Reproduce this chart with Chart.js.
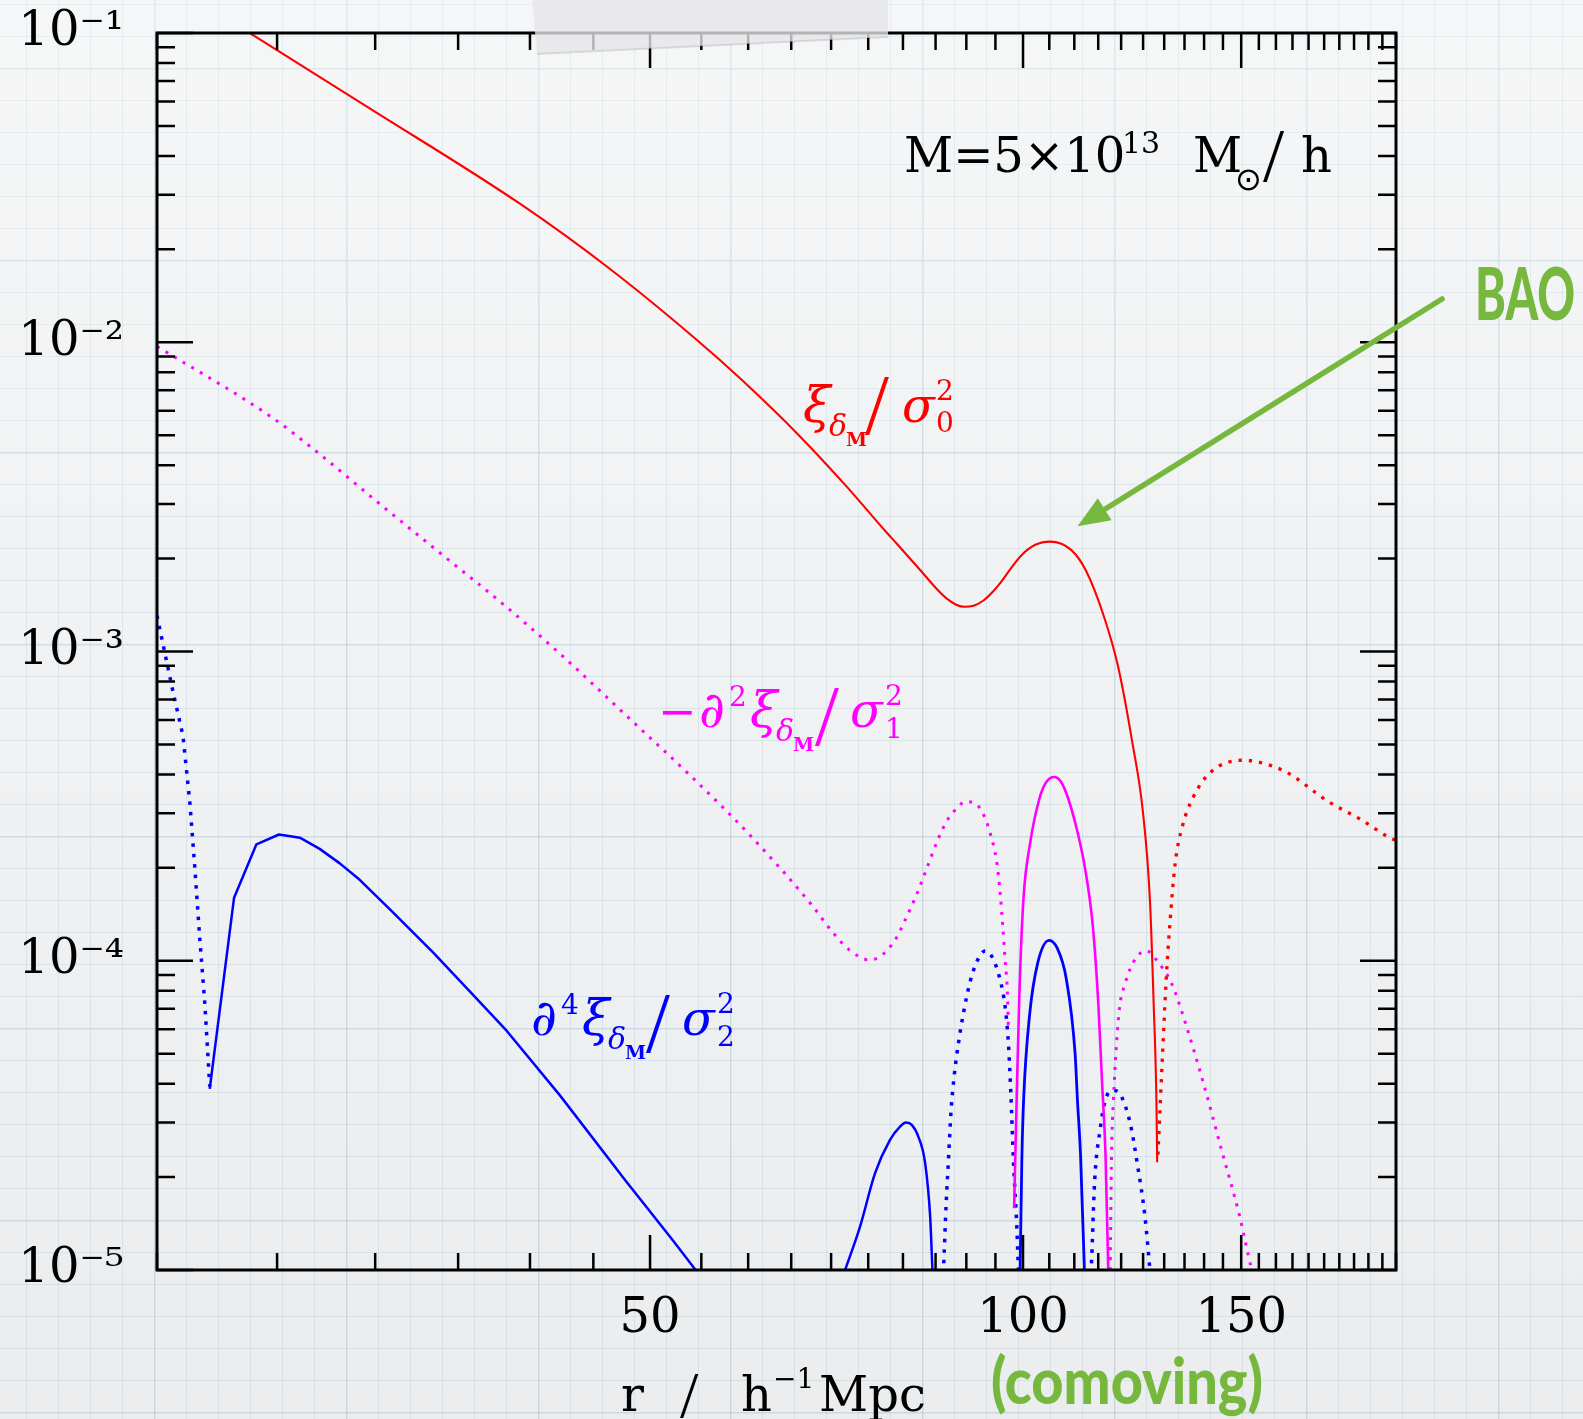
<!DOCTYPE html>
<html><head><meta charset="utf-8">
<script src="https://cdn.jsdelivr.net/npm/chart.js@4.4.1/dist/chart.umd.min.js"></script>
<style>
html,body{margin:0;padding:0;}
body{width:1583px;height:1419px;overflow:hidden;position:relative;
background-color:#f1f2f3;
background-image:
 linear-gradient(to bottom, rgba(255,255,255,0.35), rgba(255,255,255,0) 40%, rgba(0,0,0,0.025)),
 linear-gradient(to right, rgba(160,195,210,0.22) 2px, transparent 2px),
 linear-gradient(to bottom, rgba(160,195,210,0.22) 2px, transparent 2px),
 linear-gradient(to right, rgba(175,205,215,0.33) 1.5px, transparent 1.5px),
 linear-gradient(to bottom, rgba(175,205,215,0.33) 1.5px, transparent 1.5px);
background-size: 100% 100%, 192px 192px, 192px 192px, 32px 32px, 32px 32px;
background-position: 0 0, 154px 68px, 154px 68px, 26px 4px, 26px 4px;
}
#chart{position:absolute;left:0;top:0;}
#ann{position:absolute;left:0;top:0;pointer-events:none;}
</style></head>
<body>
<canvas id="chart" width="1583" height="1419" style="width:1583px;height:1419px"></canvas>
<svg id="ann" width="1583" height="1419" xmlns="http://www.w3.org/2000/svg">
  <!-- tape -->
  <polygon points="532,0 888,0 888,37 537,54" fill="rgba(230,230,232,0.78)"/>
  <polyline points="537,54 888,37" stroke="rgba(0,0,0,0.10)" stroke-width="2" fill="none"/>

  <!-- mass annotation -->
  <g font-family="DejaVu Serif" fill="#000">
    <text x="904" y="172" font-size="48">M=5×10</text>
    <text x="1122" y="153" font-size="30">13</text>
    <text x="1193" y="172" font-size="48">M</text>
    <text x="1235" y="190" font-size="32" font-family="DejaVu Sans">⊙</text>
    <text x="1263" y="181" font-size="76" font-family="Liberation Serif">/</text>
    <text x="1301" y="172" font-size="48">h</text>
  </g>

  <!-- red label -->
  <g font-family="DejaVu Serif" fill="#ff0000">
    <text x="803" y="422" font-size="50" font-style="italic">ξ</text>
    <text x="829" y="436" font-size="30" font-style="italic">δ</text>
    <text x="846" y="446" font-size="19" font-weight="bold">M</text>
    <text x="865" y="434" font-size="86" font-family="Liberation Serif">/</text>
    <text x="902" y="422" font-size="48" font-style="italic">σ</text>
    <text x="936" y="400" font-size="28">2</text>
    <text x="936" y="432" font-size="28">0</text>
  </g>

  <!-- magenta label -->
  <g font-family="DejaVu Serif" fill="#ff00ff">
    <text x="658" y="727" font-size="46">−</text>
    <text x="699" y="727" font-size="50" font-style="italic">∂</text>
    <text x="729" y="706" font-size="28">2</text>
    <text x="750" y="727" font-size="50" font-style="italic">ξ</text>
    <text x="776" y="741" font-size="30" font-style="italic">δ</text>
    <text x="793" y="751" font-size="19" font-weight="bold">M</text>
    <text x="815" y="745" font-size="86" font-family="Liberation Serif">/</text>
    <text x="850" y="727" font-size="48" font-style="italic">σ</text>
    <text x="885" y="705" font-size="28">2</text>
    <text x="885" y="738" font-size="28">1</text>
  </g>

  <!-- blue label -->
  <g font-family="DejaVu Serif" fill="#0000ff">
    <text x="531" y="1035" font-size="50" font-style="italic">∂</text>
    <text x="561" y="1014" font-size="28">4</text>
    <text x="582" y="1035" font-size="50" font-style="italic">ξ</text>
    <text x="608" y="1049" font-size="30" font-style="italic">δ</text>
    <text x="625" y="1059" font-size="19" font-weight="bold">M</text>
    <text x="646" y="1052" font-size="86" font-family="Liberation Serif">/</text>
    <text x="682" y="1035" font-size="48" font-style="italic">σ</text>
    <text x="717" y="1013" font-size="28">2</text>
    <text x="717" y="1046" font-size="28">2</text>
  </g>

  <!-- x axis title -->
  <g font-family="DejaVu Serif" fill="#000">
    <text x="621" y="1411" font-size="48">r</text>
    <text x="680" y="1417" font-size="66" font-family="Liberation Serif">/</text>
    <text x="741" y="1411" font-size="48">h</text>
    <text x="773" y="1388" font-size="28">−1</text>
    <text x="819" y="1411" font-size="48">Mpc</text>
  </g>

  <!-- green annotations -->
  <g fill="#76b83e" font-family="Lato" font-weight="900">
    <text x="1475" y="320" font-size="72" textLength="100" lengthAdjust="spacingAndGlyphs">BAO</text>
    <text x="991" y="1404" font-size="64" textLength="272" lengthAdjust="spacingAndGlyphs">(comoving)</text>
  </g>
  <line x1="1442" y1="299" x2="1102" y2="511" stroke="#76b83e" stroke-width="5.5" stroke-linecap="round"/>
  <polygon points="1077.5,526.2 1111.6,520.3 1097.8,498.3" fill="#76b83e"/>
</svg>
<script>
// ---------------- data ----------------
const xTickValues = [20,25,30,35,40,45,50,55,60,65,70,75,80,85,90,95,100,105,110,115,120,125,130,135,140,145,150,155,160,165,170,175,180,185,190,195,200];
const xMajorValues = [50, 100, 150];
const xTickLabels = ['50', '100', '150'];
const yDecades = [1e-5, 1e-4, 1e-3, 1e-2, 1e-1];
const yTickLabels = ['10⁻⁵', '10⁻⁴', '10⁻³', '10⁻²', '10⁻¹'];
const yMantissas = [1, 2, 3, 4, 5, 6, 7, 8, 9];

// red: xi / sigma0^2 (solid = positive, dotted = negative part)
const redSolidR = [20, 23.76, 29.52, 39.26, 46.5, 54.52, 59.28, 66.07, 72.0, 77.64, 79.10, 82.60, 85.04, 86.80, 88.3, 89.69, 91.2, 92.86, 94.58, 95.84, 97.7, 99.72, 102.3, 105.17, 109.42, 112.37, 116.17, 119.30, 122.49, 124.97, 126.63, 127.48, 128.15, 128.31];
const redSolidV = [0.154, 0.1, 0.0579, 0.02805, 0.01716, 0.01019, 0.00756, 0.00496, 0.003425, 0.00242, 0.00223, 0.001835, 0.001605, 0.001482, 0.001417, 0.001395, 0.001406, 0.001459, 0.001563, 0.001663, 0.00185, 0.002049, 0.002213, 0.002267, 0.002127, 0.00183, 0.001305, 8.97e-4, 5.11e-4, 3.02e-4, 1.539e-4, 7.26e-5, 3.43e-5, 2.23e-5];
const redDotR = [128.5, 129.6, 130.5, 131.3, 132.7, 134.4, 137.2, 141.8, 150.5, 154.5, 163.0, 176.6, 187.4, 197.6, 200];
const redDotV = [2.36e-5, 4.99e-5, 8.76e-5, 1.275e-4, 2.077e-4, 2.70e-4, 3.38e-4, 4.08e-4, 4.45e-4, 4.40e-4, 4.08e-4, 3.26e-4, 2.86e-4, 2.50e-4, 2.45e-4];

// magenta: -d2 xi / sigma1^2
const magDot1R = [20, 24.81, 26.72, 30.40, 34.06, 38.17, 42.77, 47.93, 53.71, 60.19, 67.44, 70.30, 72.52, 75.17, 76.68, 78.85, 80.33, 81.84, 83.64, 85.46, 87.06, 88.43, 89.80, 91.20, 92.64, 94.07, 95.25, 95.84, 96.31, 96.72, 97.14, 97.32];
const magDot1V = [0.0097, 0.005685, 0.004529, 0.002954, 0.00204, 0.001408, 9.44e-4, 6.16e-4, 4.02e-4, 2.55e-4, 1.524e-4, 1.228e-4, 1.079e-4, 1.007e-4, 1.032e-4, 1.168e-4, 1.356e-4, 1.594e-4, 1.993e-4, 2.49e-4, 2.89e-4, 3.11e-4, 3.27e-4, 3.25e-4, 3.04e-4, 2.59e-4, 2.07e-4, 1.654e-4, 1.29e-4, 1.007e-4, 7.86e-5, 5.98e-5];
const magSolidR = [98.36, 98.85, 99.33, 100.07, 101.33, 103.13, 104.46, 106.01, 107.64, 110.17, 112.37, 113.89, 115.02, 115.79, 116.57, 117.17, 117.4];
const magSolidV = [1.584e-5, 3.73e-5, 7.86e-5, 1.574e-4, 2.40e-4, 3.36e-4, 3.79e-4, 3.93e-4, 3.71e-4, 2.80e-4, 1.927e-4, 1.276e-4, 7.26e-5, 4.14e-5, 2.36e-5, 1.0e-5, 8e-6];
const magDot2R = [117.4, 117.57, 117.88, 118.3, 119.5, 120.9, 123.3, 125.8, 128.3, 131.8, 135.3, 139.9, 144.6, 149.5, 153.0, 155];
const magDot2V = [8e-6, 1.0e-5, 2.36e-5, 3.55e-5, 6.74e-5, 8.44e-5, 1.018e-4, 1.077e-4, 9.99e-5, 8.44e-5, 6.25e-5, 3.99e-5, 2.45e-5, 1.503e-5, 1.0e-5, 8.5e-6];

// blue: d4 xi / sigma2^2
const blueDot1R = [20, 20.6, 20.99, 21.26, 21.45, 21.65, 21.86, 22.06];
const blueDot1V = [1.307e-3, 7.43e-4, 5.33e-4, 3.24e-4, 2.03e-4, 1.194e-4, 7.25e-5, 3.92e-5];
const blueSolid1R = [22.06, 23.08, 24.06, 25.09, 26.08, 27.06, 28.09, 29.15, 31.01, 33.42, 36.00, 38.30, 42.29, 47.80, 52.12, 54.42, 56];
const blueSolid1V = [3.85e-5, 1.599e-4, 2.38e-4, 2.56e-4, 2.50e-4, 2.30e-4, 2.065e-4, 1.827e-4, 1.433e-4, 1.062e-4, 7.74e-5, 5.94e-5, 3.67e-5, 1.94e-5, 1.252e-5, 1.0e-5, 8.6e-6];
const blueSolid2R = [71.2, 71.85, 73.87, 75.96, 78.10, 79.57, 80.46, 81.32, 82.32, 83.37, 84.15, 84.51, 84.7];
const blueSolid2V = [9e-6, 1.0e-5, 1.381e-5, 2.056e-5, 2.635e-5, 2.909e-5, 2.997e-5, 2.946e-5, 2.70e-5, 2.215e-5, 1.488e-5, 1.0e-5, 8.5e-6];
const blueDot2R = [86.1, 86.25, 86.69, 87.06, 87.49, 87.98, 88.69, 89.52, 90.64, 91.78, 93.21, 94.37, 95.84, 96.72, 97.32, 97.76, 98.23, 98.85, 99.15, 99.3];
const blueDot2V = [9e-6, 1.0e-5, 1.644e-5, 2.27e-5, 3.294e-5, 4.22e-5, 5.41e-5, 6.77e-5, 8.56e-5, 9.94e-5, 1.076e-4, 1.032e-4, 8.67e-5, 7.11e-5, 5.41e-5, 3.73e-5, 2.27e-5, 1.381e-5, 1.0e-5, 9e-6];
const blueSolid3R = [99.4, 99.46, 99.78, 100.11, 101.23, 102.75, 104.97, 106.56, 108.36, 110.17, 110.64, 111.28, 112.09, 112.25];
const blueSolid3V = [9e-6, 1.0e-5, 2.27e-5, 3.55e-5, 6.68e-5, 9.81e-5, 1.164e-4, 1.098e-4, 8.76e-5, 4.99e-5, 3.55e-5, 2.36e-5, 1.0e-5, 9e-6];
const blueDot3R = [113.3, 113.5, 114.25, 115.40, 116.57, 118.35, 120.1, 122.1, 123.7, 125.4, 126.6, 126.9];
const blueDot3V = [9e-6, 1.0e-5, 1.953e-5, 2.842e-5, 3.56e-5, 3.81e-5, 3.63e-5, 2.953e-5, 2.188e-5, 1.503e-5, 1.0e-5, 9e-6];

// --------------- build ----------------
const yTickValues = [];
yDecades.forEach((d, i) => {
  if (i < yDecades.length - 1) yMantissas.forEach(m => yTickValues.push(m * d));
  else yTickValues.push(d);
});
const isDecade = v => yDecades.some(d => Math.abs(v / d - 1) < 1e-6);

function pts(r, v) { return r.map((x, i) => ({x: x, y: v[i]})); }
const RED = '#ff0000', MAG = '#ff00ff', BLUE = '#0000ff';
function line(r, v, c, w, dash, smooth) {
  const ds = {data: pts(r, v), borderColor: c, borderWidth: w, pointRadius: 0,
          fill: false, clip: 0, borderJoinStyle: 'round', borderCapStyle: 'butt'};
  if (dash) ds.borderDash = [w, 7];
  if (smooth) { ds.cubicInterpolationMode = 'monotone'; ds.tension = 0.4; } else { ds.tension = 0; }
  return ds;
}

const frameTicks = {
  id: 'frameTicks',
  afterDatasetsDraw(chart) {
    const {ctx, chartArea: a, scales: {x, y}} = chart;
    ctx.save();
    ctx.strokeStyle = '#000';
    ctx.lineWidth = 2.5;
    ctx.beginPath();
    xTickValues.forEach(v => {
      const px = x.getPixelForValue(v);
      const L = xMajorValues.includes(v) ? 35 : 17;
      ctx.moveTo(px, a.bottom); ctx.lineTo(px, a.bottom - L);
      ctx.moveTo(px, a.top); ctx.lineTo(px, a.top + L);
    });
    yTickValues.forEach(v => {
      const py = y.getPixelForValue(v);
      const L = isDecade(v) ? 36 : 18;
      ctx.moveTo(a.left, py); ctx.lineTo(a.left + L, py);
      ctx.moveTo(a.right, py); ctx.lineTo(a.right - L, py);
    });
    ctx.stroke();
    ctx.lineWidth = 3;
    ctx.strokeRect(a.left, a.top, a.right - a.left, a.bottom - a.top);
    ctx.restore();
  }
};

new Chart(document.getElementById('chart'), {
  type: 'line',
  data: {
    datasets: [
      line(redSolidR, redSolidV, RED, 2.1, false, true),
      line(redDotR, redDotV, RED, 3.3, true, true),
      line(magDot1R, magDot1V, MAG, 3, true, true),
      line(magSolidR, magSolidV, MAG, 2.6, false, true),
      line(magDot2R, magDot2V, MAG, 3, true, true),
      line(blueDot1R, blueDot1V, BLUE, 3.5, true, false),
      line(blueSolid1R, blueSolid1V, BLUE, 2.5, false, false),
      line(blueSolid2R, blueSolid2V, BLUE, 2.5, false, true),
      line(blueDot2R, blueDot2V, BLUE, 3.5, true, true),
      line(blueSolid3R, blueSolid3V, BLUE, 2.8, false, true),
      line(blueDot3R, blueDot3V, BLUE, 3.5, true, true)
    ]
  },
  options: {
    responsive: false,
    devicePixelRatio: 1,
    animation: false,
    events: [],
    layout: {padding: {left: 0, top: 33, right: 187, bottom: 0}},
    plugins: {legend: {display: false}, tooltip: {enabled: false}},
    scales: {
      x: {
        type: 'logarithmic', min: 20, max: 200,
        afterBuildTicks(s) { s.ticks = xTickValues.map(v => ({value: v})); },
        afterFit(s) { s.height = 149; s.paddingLeft = 0; s.paddingRight = 0; },
        grid: {display: false, drawTicks: false},
        border: {display: false},
        ticks: {
          autoSkip: false, maxRotation: 0, minRotation: 0, padding: 21, color: '#000',
          font: {family: 'DejaVu Serif', size: 48},
          callback(v) { const i = xMajorValues.indexOf(v); return i >= 0 ? xTickLabels[i] : ''; }
        }
      },
      y: {
        type: 'logarithmic', min: 1e-5, max: 1e-1,
        afterBuildTicks(s) { s.ticks = yTickValues.map(v => ({value: v})); },
        afterFit(s) { s.width = 157; s.paddingTop = 0; s.paddingBottom = 0; },
        grid: {display: false, drawTicks: false},
        border: {display: false},
        ticks: {
          autoSkip: false, padding: 33, color: '#000',
          font: {family: 'DejaVu Serif', size: 48},
          callback(v) {
            const i = yDecades.findIndex(d => Math.abs(v / d - 1) < 1e-6);
            return i >= 0 ? yTickLabels[i] : '';
          }
        }
      }
    }
  },
  plugins: [frameTicks]
});
</script>
</body></html>
